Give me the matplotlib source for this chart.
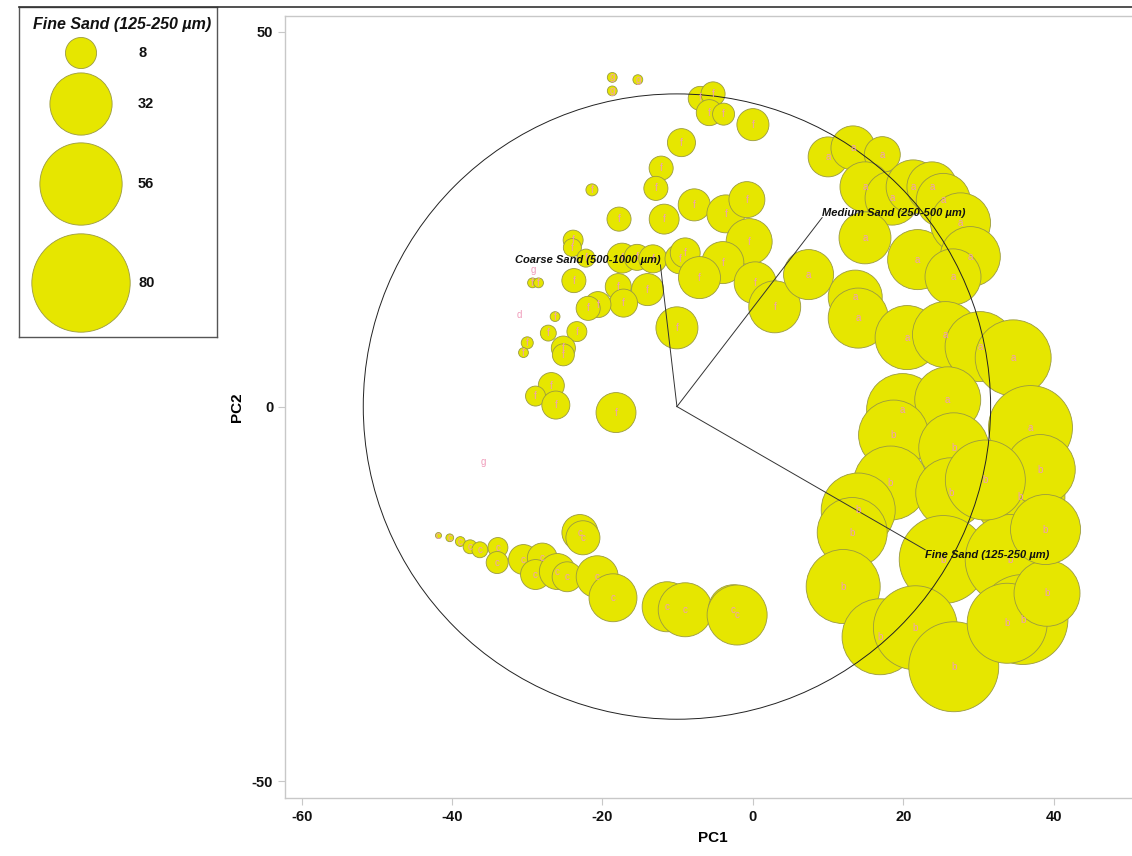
import matplotlib
matplotlib.use("Agg")
import matplotlib.pyplot as plt
from matplotlib.lines import Line2D
from matplotlib.patches import Circle
import numpy as np

plt.rcParams["font.family"] = ["Liberation Sans", "DejaVu Sans"]
plt.rcParams["axes.unicode_minus"] = False

# sample scores on the first two components, fine sand content (%) and group letter
pc1 = [
    -18.7, -18.7, -15.3, -7.0, -5.3, -5.8, -3.9, 0.0, -9.5, -12.2,
    -12.9, -21.4, -17.8, -11.8, -7.8, -3.6, -0.8, -0.5, -23.9, -24.0,
    -22.2, -17.4, -15.4, -13.3, -9.7, -9.0, -4.0, -17.9, -14.0, -17.2,
    -20.6, -21.9, -7.1, 0.3, 2.9, -10.1, -23.8, -29.3, -28.5, -26.3,
    -27.2, -23.4, -30.0, -30.5, -25.2, -25.2, -26.8, -28.9, -26.2, -18.2,
    -29.2, -31.1, -35.9,
    7.4, 10.0, 13.3, 17.2, 14.9, 18.5, 21.3, 23.8, 25.3, 14.9,
    21.9, 27.6, 28.9, 26.6, 13.6, 14.0, 20.5, 25.6, 30.2, 34.6,
    19.9, 25.9, 36.9,
    18.7, 18.3, 14.0, 13.2, 12.0, 26.7, 26.3, 35.5, 25.3, 34.2,
    35.9, 16.9, 21.6, 26.7, 33.8, 39.1, 38.2, 38.9, 30.9,
    -41.8, -40.3, -38.9, -37.6, -36.3, -33.9, -34.0, -30.5, -28.0, -28.9,
    -26.0, -24.7, -23.0, -22.6, -20.7, -18.6, -11.4, -9.0, -2.6, -2.1,
]
pc2 = [
    43.9, 42.1, 43.6, 41.1, 41.7, 39.2, 39.0, 37.6, 35.2, 31.8,
    29.1, 28.9, 25.0, 25.0, 26.9, 25.7, 27.6, 22.0, 22.2, 21.2,
    19.8, 19.8, 19.9, 19.7, 19.7, 20.5, 19.2, 16.0, 15.6, 13.8,
    13.6, 13.1, 17.2, 16.5, 13.3, 10.5, 16.8, 16.5, 16.5, 12.0,
    9.8, 10.0, 8.5, 7.2, 7.8, 6.9, 2.8, 1.4, 0.2, -0.8,
    18.2, 12.2, -7.4,
    17.6, 33.3, 34.5, 33.6, 29.3, 27.8, 29.3, 29.3, 27.5, 22.5,
    19.6, 24.5, 20.0, 17.3, 14.6, 11.8, 9.2, 9.6, 8.0, 6.5,
    -0.4, 0.9, -2.8,
    -3.8, -10.2, -13.8, -16.8, -24.0, -5.5, -11.5, -12.0, -20.4, -20.4,
    -28.4, -30.7, -29.5, -34.7, -28.9, -24.9, -8.4, -16.4, -9.8,
    -17.2, -17.5, -18.0, -18.7, -19.1, -18.8, -20.8, -20.4, -20.2, -22.4,
    -22.0, -22.7, -16.8, -17.5, -22.7, -25.5, -26.7, -27.1, -27.1, -27.8,
]
fine_sand = [
    0.8, 0.8, 0.8, 4.8, 4.8, 5.6, 4.0, 8.5, 6.5, 4.8,
    4.8, 1.2, 4.8, 7.4, 8.5, 11.9, 10.7, 17.5, 3.3, 2.7,
    2.7, 7.4, 5.6, 6.5, 7.4, 7.4, 14.6, 5.6, 8.5, 6.5,
    5.6, 4.8, 14.6, 14.6, 22.3, 14.6, 4.8, 0.8, 0.8, 0.8,
    2.1, 3.3, 1.2, 0.8, 4.8, 4.0, 5.6, 3.3, 6.5, 13.2,
    0.0, 0.0, 0.0,
    20.7, 13.2, 16.0, 10.7, 20.7, 24.1, 24.1, 20.7, 24.1, 22.3,
    29.8, 29.8, 29.8, 25.9, 24.1, 29.8, 33.9, 36.0, 40.5, 47.7,
    42.8, 36.0, 58.3,
    40.5, 45.3, 45.3, 40.5, 45.3, 40.5, 40.5, 66.9, 64.0, 66.9,
    66.9, 47.7, 58.3, 66.9, 52.9, 36.0, 40.5, 40.5, 52.9,
    0.3, 0.5, 0.8, 1.6, 2.1, 3.3, 4.0, 7.4, 7.4, 7.4,
    10.7, 7.4, 10.7, 9.6, 14.6, 19.0, 20.7, 24.1, 20.7, 29.8,
]
groups = (
    ["g"] * 3 + ["f"] * 47 + ["g", "d", "g"]
    + ["a"] * 23
    + ["b"] * 19
    + ["c"] * 20
)

# variable loadings (scaled) and correlation circle
loading_names = ["Coarse Sand (500-1000 µm)", "Medium Sand (250-500 µm)", "Fine Sand (125-250 µm)"]
loading_x = [-2.2, 19.3, 33.0]
loading_y = [18.9, 25.2, -19.1]
circle_center = (-10.1, 0.0)
circle_radius = 41.7

legend_values = [8, 32, 56, 80]

BUBBLE = "#E6E600"
EDGE = "#9a9a40"
PINK = "#F09CBA"
SPINE = "#c8c8c8"
SIZE_SCALE = 62.7  # marker area (pt^2) per percent of fine sand

fig = plt.figure(figsize=(11.32, 8.56), dpi=100)
ax = fig.add_axes([0.2518, 0.0678, 0.7562, 0.9136])

ax.scatter(pc1, pc2, s=np.array(fine_sand) * SIZE_SCALE, c=BUBBLE,
           edgecolors=EDGE, linewidths=0.6, zorder=2)
for x, y, g in zip(pc1, pc2, groups):
    ax.text(x, y, g, color=PINK, fontsize=7, ha="center", va="center", zorder=4)

cx, cy = circle_center
ax.add_patch(Circle(circle_center, circle_radius, fill=False, color="#222222", lw=0.7, zorder=3))
for name, lx, ly in zip(loading_names, loading_x, loading_y):
    ex, ey = cx + lx, cy + ly
    ax.plot([cx, ex], [cy, ey], color="#333333", lw=0.7, zorder=3)
    ax.text(ex, ey, name, fontsize=8, fontweight="bold", fontstyle="italic",
            ha="left" if lx > 0 else "right", va="bottom" if ly > 0 else "top",
            color="#111111", zorder=5)

ax.set_xlim(-62.2, 51.6)
ax.set_ylim(-52.2, 52.1)
ax.set_xticks([-60, -40, -20, 0, 20, 40])
ax.set_yticks([-50, 0, 50])
ax.tick_params(length=5, width=0.8, color=SPINE, labelsize=10.5, labelcolor="#111111")
for lab in ax.get_xticklabels() + ax.get_yticklabels():
    lab.set_fontweight("bold")
for side in ["left", "bottom", "top"]:
    ax.spines[side].set_color(SPINE)
    ax.spines[side].set_linewidth(1.0)
ax.spines["right"].set_visible(False)
ax.set_xlabel("PC1", fontsize=11, fontweight="bold", labelpad=5)
ax.set_ylabel("PC2", fontsize=11, fontweight="bold", labelpad=6)

# size legend box
lax = fig.add_axes([0.0168, 0.6063, 0.1749, 0.3855])
lax.set_xlim(0, 198)
lax.set_ylim(330, 0)
lax.set_xticks([])
lax.set_yticks([])
for sp in lax.spines.values():
    sp.set_color("#555555")
    sp.set_linewidth(1.0)
lax.text(103, 17, "Fine Sand (125-250 µm)", fontsize=11.5, fontweight="bold",
         fontstyle="italic", ha="center", va="center", color="#111111")
legend_rows = [46, 97, 177, 276]
lax.scatter([62] * len(legend_values), legend_rows, s=np.array(legend_values) * SIZE_SCALE,
            c=BUBBLE, edgecolors=EDGE, linewidths=0.6, clip_on=False)
for v, yy in zip(legend_values, legend_rows):
    lax.text(119, yy, str(v), fontsize=10.5, fontweight="bold", ha="left", va="center", color="#111111")

fig.add_artist(Line2D([0.0168, 1.0], [0.9918, 0.9918], color="#333333", lw=1.2))

fig.savefig("out.png", dpi=100)
